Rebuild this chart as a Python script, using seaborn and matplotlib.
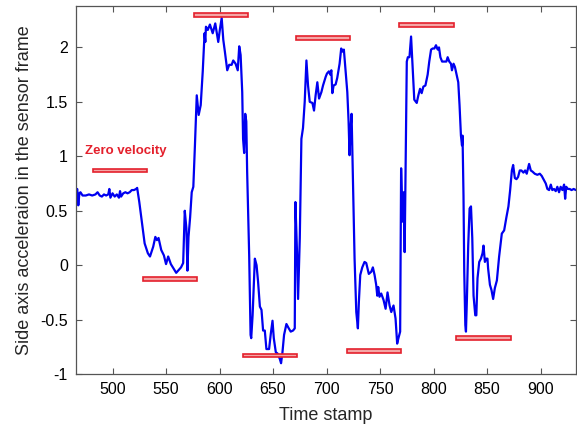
import matplotlib
matplotlib.use("Agg")
import matplotlib.pyplot as plt
import seaborn as sns
import pandas as pd

# ---- data ----
time_stamp = [466, 467, 468, 469, 470, 472, 475, 478, 481, 484, 486, 488, 490, 492, 494, 496, 497, 498,
              500, 502, 504, 506, 507, 508, 510, 512, 514, 516, 518, 520, 522, 523, 525, 528, 530, 533,
              535, 538, 540, 541.5, 543, 545.5, 548, 550, 552, 554.5, 559.5, 564, 566, 567.5, 569, 570,
              571, 572.5, 574, 575.5, 577, 578.7, 580.5, 582.4, 584.3, 586, 586.7, 587.3, 589, 591,
              593.6, 596, 598.8, 600.4, 602, 603.5, 605, 607.2, 609, 611.3, 612.8, 615, 617, 618.4,
              619.7, 621.2, 622, 623, 624, 625, 625.8, 627.7, 629, 629.6, 630.9, 633, 634.6, 636,
              637.7, 639.2, 640.7, 642.3, 643.8, 646.3, 647.9, 649.5, 650.7, 652.6, 654.1, 656.3,
              657.5, 658.8, 660.3, 662.5, 664.7, 666.5, 668.7, 670.3, 670.9, 672.4, 673.4, 675,
              676.5, 678, 679.6, 681.2, 682.7, 684.3, 686.8, 688.3, 689.8, 691.4, 693, 695.2, 696.7,
              699.2, 700.4, 702.2, 703.5, 704.5, 705.4, 706.6, 708.5, 710, 712.2, 713.7, 715.3,
              716.2, 717.8, 719.4, 720.6, 721.5, 722.5, 723.4, 724.6, 726.2, 727.8, 729.3, 730.2,
              731.5, 733.4, 735.5, 737.1, 739.5, 741.8, 743.3, 744.9, 746.4, 747.4, 748.3, 749.5,
              751.1, 753.3, 755.2, 757, 758.9, 760.5, 762.6, 764.5, 766, 767.2, 768.8, 769.7, 771,
              772.2, 773, 774, 775, 776, 777.5, 779, 780.6, 782, 784.3, 785.8, 787.4, 788.9, 790.5,
              792.4, 794.5, 796, 797.7, 799.2, 800.8, 802.3, 803.9, 805.1, 806.4, 808, 810, 812,
              813.2, 814.7, 816.3, 817.2, 818.7, 820, 821.5, 823.1, 824.3, 825.6, 826.6, 827.1, 828,
              828.7, 829.7, 830.3, 831.2, 832.4, 833.7, 835, 836.2, 837.4, 839, 840, 841.1, 842.7,
              844.3, 845.8, 846.7, 848, 849.2, 850.4, 851, 852.7, 854.2, 855.7, 857.3, 859.2, 861.3,
              863.8, 866, 868.1, 870, 871.6, 873.2, 874.4, 876, 877.5, 879, 880.6, 882.1, 884, 885.6,
              887.1, 889.3, 890.9, 892.4, 894.6, 897, 899.3, 901.1, 903.3, 904.9, 906.4, 908, 909.6,
              911, 912.6, 914.2, 915.7, 917.3, 918.8, 920.4, 922, 923, 924, 925.6, 927.2, 929, 931, 933]

side_accel = [0.68, 0.70, 0.55, 0.66, 0.67, 0.64, 0.64, 0.65, 0.64, 0.65, 0.67, 0.64, 0.63, 0.65, 0.64, 0.65, 0.70, 0.62,
              0.66, 0.63, 0.65, 0.62, 0.68, 0.63, 0.66, 0.67, 0.66, 0.67, 0.69, 0.69, 0.70, 0.71, 0.58, 0.35, 0.20, 0.11,
              0.08, 0.17, 0.26, 0.23, 0.25, 0.14, 0.09, 0.01, 0.08, 0.01, -0.07, -0.02, 0.02, 0.50, 0.34, -0.05,
              0.26, 0.44, 0.67, 0.72, 1.10, 1.56, 1.38, 1.47, 1.78, 2.13, 2.05, 2.19, 2.16, 2.21,
              2.13, 2.22, 2.05, 2.17, 2.27, 2.07, 1.96, 1.79, 1.84, 1.84, 1.88, 1.85, 1.79, 2.01,
              1.93, 1.59, 1.16, 1.03, 1.39, 1.32, 0.86, 0.09, -0.64, -0.67, -0.46, 0.06, 0.00, -0.15,
              -0.38, -0.41, -0.60, -0.60, -0.77, -0.77, -0.63, -0.51, -0.67, -0.80, -0.81, -0.86,
              -0.90, -0.80, -0.64, -0.54, -0.58, -0.61, -0.60, -0.58, 0.58, 0.12, -0.31, 0.25,
              1.16, 1.26, 1.50, 1.88, 1.65, 1.50, 1.49, 1.42, 1.56, 1.68, 1.53, 1.59, 1.65,
              1.73, 1.76, 1.78, 1.75, 1.79, 1.58, 1.65, 1.66, 1.72, 1.85, 1.99, 1.96,
              1.98, 1.78, 1.59, 1.32, 1.01, 1.26, 1.39, 0.80, 0.06, -0.43, -0.58, -0.34,
              -0.09, -0.02, 0.03, 0.02, -0.08, -0.06, -0.02, -0.09, -0.18, -0.28, -0.20, -0.29,
              -0.26, -0.32, -0.40, -0.25, -0.37, -0.43, -0.37, -0.49, -0.72, -0.67, -0.61, 0.89, 0.40,
              0.67, 0.12, 0.98, 1.87, 1.91, 1.91, 2.10, 1.78, 1.52, 1.49, 1.56, 1.62, 1.58, 1.64,
              1.65, 1.75, 1.87, 1.98, 1.99, 1.99, 2.02, 1.98, 2.00, 1.91, 1.87, 1.87, 1.87,
              1.91, 1.87, 1.85, 1.79, 1.85, 1.82, 1.75, 1.68, 1.47, 1.19, 1.10, 1.19, 0.64,
              -0.06, -0.55, -0.61, -0.31, 0.18, 0.52, 0.54, 0.25, -0.28, -0.46, -0.46, -0.12, 0.03,
              0.06, 0.11, 0.18, 0.03, 0.06, 0.06, -0.03, -0.18, -0.23, -0.31, -0.21, -0.14, 0.08,
              0.29, 0.32, 0.44, 0.54, 0.69, 0.87, 0.92, 0.80, 0.79, 0.81, 0.87, 0.87, 0.85, 0.87,
              0.84, 0.93, 0.87, 0.86, 0.84, 0.83, 0.84, 0.82, 0.78, 0.75, 0.70, 0.69, 0.74,
              0.69, 0.70, 0.68, 0.72, 0.67, 0.72, 0.69, 0.74, 0.61, 0.72, 0.70, 0.70, 0.69, 0.70, 0.69]

# zero-velocity interval markers
zv_start = [482, 528, 576, 622, 671, 719, 768, 821]
zv_end = [532, 579, 627, 672, 722, 770, 819, 872]
zv_level = [0.87, -0.125, 2.30, -0.83, 2.085, -0.79, 2.205, -0.667]

x_ticks = [500, 550, 600, 650, 700, 750, 800, 850, 900]
y_ticks = [-1, -0.5, 0, 0.5, 1, 1.5, 2]
y_tick_labels = ["-1", "-0.5", "0", "0.5", "1", "1.5", "2"]

# ---- plot ----
sns.set_style("white")
plt.rcParams["font.family"] = ["Liberation Sans", "DejaVu Sans"]

fig = plt.figure(figsize=(5.77, 4.30), dpi=100)
ax = fig.add_axes([0.132, 0.130, 0.866, 0.856])

df = pd.DataFrame({"t": time_stamp, "a": side_accel})
sns.lineplot(data=df, x="t", y="a", ax=ax, color="#0000f0", linewidth=1.6,
             estimator=None, sort=False)

widths = [e - s for s, e in zip(zv_start, zv_end)]
ax.barh(zv_level, widths, left=zv_start, height=0.034, color="#f4a6a6",
        edgecolor="#e4202c", linewidth=1.2, zorder=3)

ax.text(474.5, 1.05, "Zero velocity", color="#e4202c", fontsize=9.5,
        fontweight="bold", ha="left", va="center")

ax.set_xlim(466, 933)
ax.set_ylim(-1, 2.38)
ax.set_xticks(x_ticks)
ax.set_yticks(y_ticks)
ax.set_yticklabels(y_tick_labels)
ax.tick_params(direction="in", length=4.5, width=0.8, colors="#555555",
               labelcolor="black", labelsize=11.5, top=True, right=True,
               bottom=True, left=True, pad=6)
for s in ax.spines.values():
    s.set_color("#555555")
    s.set_linewidth(0.9)

ax.set_xlabel("Time stamp", fontsize=13, labelpad=7)
ax.set_ylabel("Side axis acceleraion in the sensor frame", fontsize=13, labelpad=5)

fig.savefig("out.png", dpi=100)
